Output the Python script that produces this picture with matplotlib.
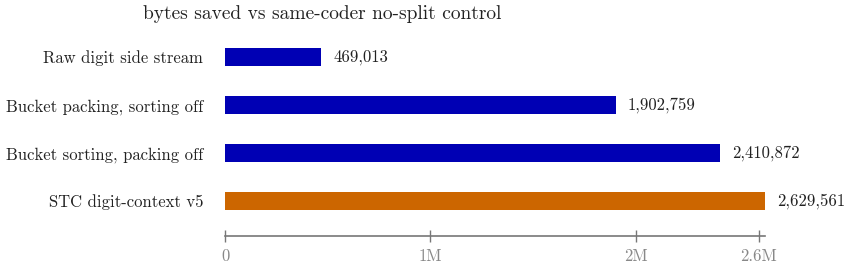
import matplotlib.pyplot as plt
import matplotlib as mpl

mpl.rcParams['font.family'] = 'cmr10'
mpl.rcParams['mathtext.fontset'] = 'cm'
mpl.rcParams['axes.formatter.use_mathtext'] = True

labels = ["Raw digit side stream", "Bucket packing, sorting off",
          "Bucket sorting, packing off", "STC digit-context v5"]
values = [469013, 1902759, 2410872, 2629561]
colors = ["#0000b4", "#0000b4", "#0000b4", "#cc6600"]
tick_vals = [0, 1000000, 2000000, 2600000]
tick_labels = ["0", "1M", "2M", "2.6M"]

fig = plt.figure(figsize=(8.51, 2.67), dpi=100)
ax = fig.add_axes([225 / 851, 1 - 236 / 267, 540 / 851, 203 / 267])

ypos = list(range(len(labels)))
ax.barh(ypos, values, height=0.375, color=colors)
ax.set_xlim(0, max(values))
ax.set_ylim(3.729, -0.5)

for y, v in zip(ypos, values):
    ax.annotate(f"{v:,}", (v, y), xytext=(8.5, 0), textcoords="offset points",
                va="center", ha="left", fontsize=12, color="#222222")

ax.set_yticks(ypos)
ax.set_yticklabels(labels, fontsize=12, color="#222222")
ax.tick_params(axis="y", length=0, pad=15.8)

ax.set_xticks(tick_vals)
ax.set_xticklabels(tick_labels, fontsize=12, color="#888888")
ax.tick_params(axis="x", direction="inout", length=8, color="#777777", width=1, pad=5)

for s in ["top", "right", "left"]:
    ax.spines[s].set_visible(False)
ax.spines["bottom"].set_color("#777777")
ax.spines["bottom"].set_linewidth(1.2)

fig.text(143 / 851, 1 - 14 / 267, "bytes saved vs same-coder no-split control",
         fontsize=14, va="center", ha="left", color="#222222")

fig.savefig("out.png", dpi=100)
